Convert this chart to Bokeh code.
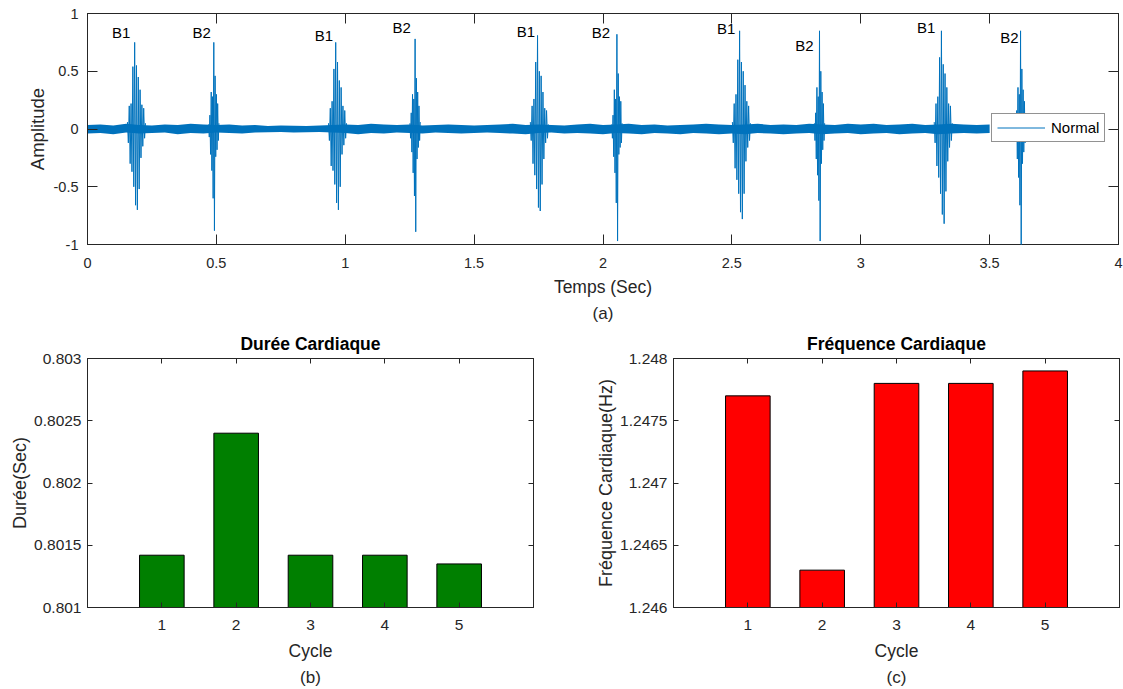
import numpy as np
from bokeh.plotting import figure
from bokeh.layouts import column, row
from bokeh.models import (LinearAxis, FixedTicker, Legend, LegendItem, Title, Range1d)
from bokeh.core.properties import value
from bokeh.embed import file_html
from bokeh.resources import INLINE

FONT = "Liberation Sans"
INK = "#262626"
SIGNAL = "#0072BD"

# ---------------- (a) phonocardiogram ----------------
# heart sounds: onset (s), type, successive oscillation extremes
sound_start = [0.155, 0.470, 0.935, 1.251, 1.718, 2.034, 2.502, 2.820, 3.285, 3.600]
sound_kind = ["B1", "B2", "B1", "B2", "B1", "B2", "B1", "B2", "B1", "B2"]
sound_1 = [0.06, -0.12, 0.20, -0.30, 0.22, -0.37, 0.54, -0.50, 0.75, -0.66, 0.55, -0.70, 0.45, -0.52, 0.34, -0.25, 0.21, -0.15, 0.18, -0.08, 0.05]
sound_2 = [0.04, -0.07, 0.12, -0.22, 0.32, -0.36, 0.28, -0.60, 0.75, -0.88, 0.46, -0.24, 0.30, -0.18, 0.22, -0.10, 0.05]
sound_3 = [0.05, -0.10, 0.18, -0.32, 0.24, -0.36, 0.52, -0.48, 0.75, -0.64, 0.58, -0.70, 0.42, -0.50, 0.36, -0.22, 0.20, -0.14, 0.16, -0.08, 0.05]
sound_4 = [0.05, -0.08, 0.14, -0.20, 0.30, -0.38, 0.26, -0.58, 0.78, -0.89, 0.44, -0.26, 0.32, -0.16, 0.20, -0.10, 0.06]
sound_5 = [0.06, -0.10, 0.20, -0.30, 0.26, -0.40, 0.58, -0.52, 0.81, -0.68, 0.50, -0.71, 0.46, -0.48, 0.32, -0.26, 0.18, -0.12, 0.16, -0.08, 0.04]
sound_6 = [0.04, -0.08, 0.12, -0.24, 0.34, -0.38, 0.26, -0.64, 0.82, -0.97, 0.48, -0.22, 0.28, -0.16, 0.24, -0.12, 0.05]
sound_7 = [0.06, -0.12, 0.22, -0.34, 0.30, -0.44, 0.60, -0.56, 0.85, -0.72, 0.58, -0.78, 0.50, -0.56, 0.38, -0.28, 0.24, -0.16, 0.20, -0.10, 0.05]
sound_8 = [0.05, -0.10, 0.14, -0.26, 0.36, -0.40, 0.28, -0.62, 0.85, -0.97, 0.50, -0.30, 0.32, -0.18, 0.22, -0.10, 0.05]
sound_9 = [0.06, -0.12, 0.22, -0.32, 0.28, -0.42, 0.62, -0.56, 0.85, -0.74, 0.56, -0.82, 0.48, -0.54, 0.36, -0.28, 0.22, -0.16, 0.20, -0.10, 0.05]
sound_10 = [0.05, -0.10, 0.16, -0.26, 0.36, -0.42, 0.30, -0.66, 0.85, -1.00, 0.52, -0.30, 0.34, -0.20, 0.24, -0.12, 0.05]
sound_amps = [sound_1, sound_2, sound_3, sound_4, sound_5,
              sound_6, sound_7, sound_8, sound_9, sound_10]
sample_step = {"B1": 0.0035, "B2": 0.0025}

# background noise envelope, one reading every 0.05 s from 0 to 3.5 s
noise_hi = [0.035, 0.040, 0.030, 0.045, 0.035, 0.030, 0.040, 0.035, 0.045, 0.040,
            0.035, 0.040, 0.030, 0.035, 0.025, 0.030, 0.028, 0.025, 0.030, 0.035,
            0.040, 0.035, 0.045, 0.040, 0.035, 0.040, 0.030, 0.035, 0.040, 0.035,
            0.030, 0.035, 0.040, 0.045, 0.035, 0.040, 0.035, 0.030, 0.040, 0.045,
            0.035, 0.040, 0.045, 0.035, 0.040, 0.030, 0.035, 0.040, 0.045, 0.040,
            0.035, 0.040, 0.045, 0.035, 0.040, 0.035, 0.045, 0.040, 0.035, 0.045,
            0.040, 0.045, 0.035, 0.040, 0.045, 0.035, 0.040, 0.045, 0.040, 0.035,
            0.040]
noise_lo = [-0.040, -0.035, -0.045, -0.030, -0.040, -0.035, -0.030, -0.045, -0.035, -0.040,
            -0.030, -0.035, -0.040, -0.030, -0.028, -0.025, -0.030, -0.028, -0.025, -0.030,
            -0.035, -0.045, -0.035, -0.040, -0.030, -0.035, -0.040, -0.030, -0.035, -0.040,
            -0.035, -0.030, -0.035, -0.040, -0.045, -0.035, -0.030, -0.040, -0.035, -0.040,
            -0.045, -0.035, -0.040, -0.045, -0.035, -0.040, -0.045, -0.035, -0.040, -0.045,
            -0.040, -0.045, -0.035, -0.040, -0.045, -0.040, -0.035, -0.045, -0.040, -0.035,
            -0.045, -0.040, -0.035, -0.045, -0.040, -0.035, -0.045, -0.040, -0.035, -0.040,
            -0.035]
noise_step = 0.05

label_text = ["B1", "B2", "B1", "B2", "B1", "B2", "B1", "B2", "B1", "B2"]
label_t = [0.131, 0.443, 0.917, 1.219, 1.701, 1.992, 2.478, 2.781, 3.254, 3.577]
label_y = [0.835, 0.835, 0.81, 0.88, 0.845, 0.835, 0.87, 0.72, 0.88, 0.79]

t_ticks = [0, 0.5, 1, 1.5, 2, 2.5, 3, 3.5, 4]
t_tick_labels = ["0", "0.5", "1", "1.5", "2", "2.5", "3", "3.5", "4"]
a_ticks = [-1, -0.5, 0, 0.5, 1]
a_tick_labels = ["-1", "-0.5", "0", "0.5", "1"]

# ---------------- (b) / (c) per-cycle values ----------------
cycles = [1, 2, 3, 4, 5]
duree = [0.80142, 0.80240, 0.80142, 0.80142, 0.80135]
frequence = [1.24770, 1.24630, 1.24780, 1.24780, 1.24790]
duree_ticks = [0.801, 0.8015, 0.802, 0.8025, 0.803]
duree_tick_labels = ["0.801", "0.8015", "0.802", "0.8025", "0.803"]
freq_ticks = [1.246, 1.2465, 1.247, 1.2475, 1.248]
freq_tick_labels = ["1.246", "1.2465", "1.247", "1.2475", "1.248"]


def style_box(p, xticks, xlabels, yticks, ylabels, tick_len, xlab, ylab,
              tick_size, xlab_size, ylab_size):
    """MATLAB-like boxed axes with inward ticks on all four sides.
    Returns the labelled bottom and left axes."""
    p.xgrid.visible = False
    p.ygrid.visible = False
    p.outline_line_color = INK
    p.outline_line_width = 1
    p.background_fill_color = "white"
    p.border_fill_color = "white"
    xa = p.below[0]
    ya = p.left[0]
    for ax, ticks, labels in ((xa, xticks, xlabels), (ya, yticks, ylabels)):
        ax.ticker = FixedTicker(ticks=ticks)
        ax.major_label_overrides = {t: l for t, l in zip(ticks, labels)}
        ax.major_tick_in = tick_len
        ax.major_tick_out = 0
        ax.minor_tick_in = 0
        ax.minor_tick_out = 0
        ax.axis_line_color = INK
        ax.major_tick_line_color = INK
        ax.major_label_text_font = FONT
        ax.major_label_text_font_size = tick_size
        ax.major_label_text_color = INK
        ax.axis_label_text_font = FONT
        ax.axis_label_text_font_style = "normal"
        ax.axis_label_text_color = INK
    xa.axis_label = xlab
    ya.axis_label = ylab
    xa.axis_label_text_font_size = xlab_size
    ya.axis_label_text_font_size = ylab_size
    # mirrored ticks on top and right
    for place, ticks in (("above", xticks), ("right", yticks)):
        ax = LinearAxis(ticker=FixedTicker(ticks=ticks))
        ax.major_tick_in = tick_len
        ax.major_tick_out = 0
        ax.minor_tick_in = 0
        ax.minor_tick_out = 0
        ax.major_label_text_font_size = "0px"
        ax.major_label_standoff = 0
        ax.axis_line_color = INK
        ax.major_tick_line_color = INK
        p.add_layout(ax, place)
    return xa, ya


def caption(p, text):
    t = Title(text=text, align="center", text_font=FONT, text_font_size="17px",
              text_font_style="normal", text_color=INK, standoff=4)
    p.add_layout(t, "below")


# ---------------- top panel ----------------
top = figure(width=1123, height=324, output_backend="svg", toolbar_location=None,
             x_range=Range1d(0, 4), y_range=Range1d(-1, 1),
             min_border_left=87, min_border_right=5, min_border_top=13, min_border_bottom=80)
txa, tya = style_box(top, t_ticks, t_tick_labels, a_ticks, a_tick_labels, 10,
                     "Temps (Sec)", "Amplitude", "14.5px", "17.5px", "18.5px")
txa.major_label_standoff = 13
txa.axis_label_standoff = 6
tya.major_label_standoff = 9
tya.axis_label_standoff = 3
caption(top, "(a)")

noise_t = noise_step * np.arange(len(noise_hi))
top.varea(x=noise_t, y1=noise_lo, y2=noise_hi, fill_color=SIGNAL, fill_alpha=1.0)

xs, ys = [], []
for start, kind, amps in zip(sound_start, sound_kind, sound_amps):
    t = start + sample_step[kind] * np.arange(len(amps))
    xs.append(list(t))
    ys.append(list(amps))
r_sounds = top.multi_line(xs=xs[:-1], ys=ys[:-1], line_color=SIGNAL, line_width=1)
top.line(x=xs[-1], y=ys[-1], line_color=SIGNAL, line_width=1, level="overlay")

top.text(x=label_t, y=label_y, text=label_text, text_align="center", text_baseline="middle",
         text_font=value(FONT), text_font_size="15px", text_color="black")

legend = Legend(items=[LegendItem(label="Normal", renderers=[r_sounds])],
                location=(904, 102), glyph_width=48, glyph_height=17,
                label_text_font=FONT, label_text_font_size="15px", label_text_color="black",
                border_line_color=INK, border_line_width=1, background_fill_color="white",
                background_fill_alpha=1.0, padding=5, margin=0, label_standoff=6,
                label_height=17)
top.add_layout(legend, "center")


# ---------------- bottom panels ----------------
def bar_panel(width, left_border, right_border, vals, ticks, labels, ymin, ymax,
              color, title, ylab, cap):
    p = figure(width=width, height=365, output_backend="svg", toolbar_location=None,
               x_range=Range1d(0, 6), y_range=Range1d(ymin, ymax),
               min_border_left=left_border, min_border_right=right_border,
               min_border_top=34, min_border_bottom=82)
    xa, ya = style_box(p, cycles, [str(c) for c in cycles], ticks, labels, 5, "Cycle", ylab,
                       "15.5px", "17.5px", "18px")
    ya.major_label_standoff = 6
    ya.axis_label_standoff = 1
    xa.major_label_standoff = 12
    xa.axis_label_standoff = 8
    p.title.text = title
    p.title.align = "center"
    p.title.text_font = FONT
    p.title.text_font_size = "17.5px"
    p.title.text_font_style = "bold"
    p.title.text_color = "black"
    p.title.standoff = 10
    p.vbar(x=cycles, top=vals, bottom=ymin, width=0.6, fill_color=color,
           line_color="black", line_width=1)
    caption(p, cap)
    return p


left = bar_panel(560, 87, 27, duree, duree_ticks, duree_tick_labels, 0.801, 0.803,
                 "#007f00", "Durée Cardiaque", "Durée(Sec)", "(b)")
right = bar_panel(563, 113, 4, frequence, freq_ticks, freq_tick_labels, 1.246, 1.248,
                  "#ff0000", "Fréquence Cardiaque", "Fréquence Cardiaque(Hz)", "(c)")

page = column(top, row(left, right))
open("out.html", "w").write(file_html(page, INLINE))
